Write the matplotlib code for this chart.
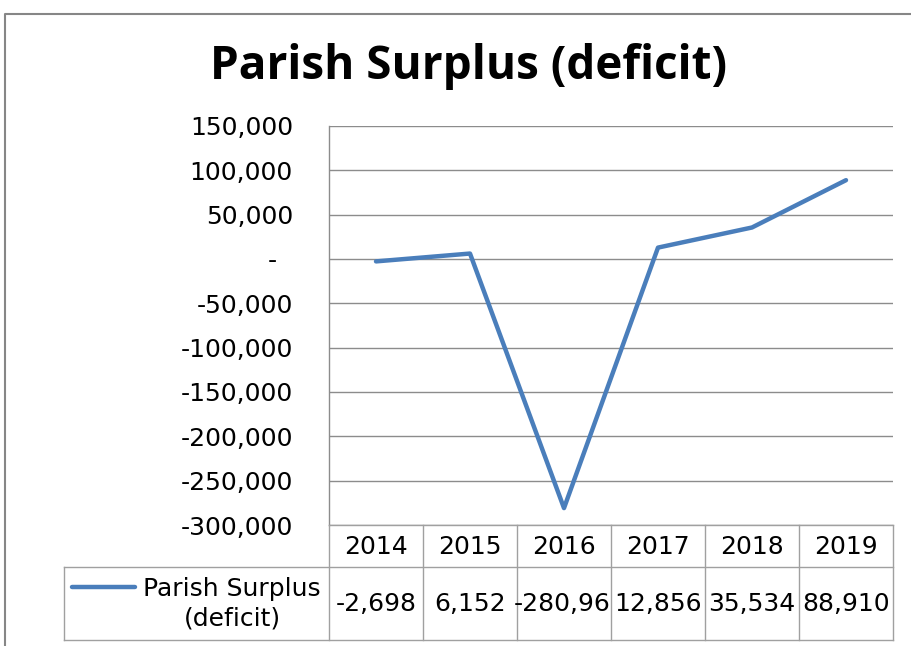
import numpy as np
import matplotlib
matplotlib.use("Agg")
import matplotlib.pyplot as plt
from matplotlib.lines import Line2D

# data
years = ["2014", "2015", "2016", "2017", "2018", "2019"]
surplus = [-2698, 6152, -280960, 12856, 35534, 88910]
series_name = "Parish Surplus\n(deficit)"
y_ticks = [150000, 100000, 50000, 0, -50000, -100000, -150000, -200000, -250000, -300000]

W, H = 912, 646
fig = plt.figure(figsize=(W / 100, H / 100), dpi=100)

def fx(px):
    return px / W

def fy(py):
    return 1 - py / H

# plot area in pixels
L, R, T, B = 329, 893, 126, 525
ax = fig.add_axes([fx(L), fy(B), fx(R - L), (B - T) / H])

line_color = "#4A7EBB"
grid_color = "#8C8C8C"
table_color = "#A0A0A0"
font = "DejaVu Sans"
fs = 18

x = np.arange(len(years))
ax.plot(x, surplus, color=line_color, lw=3.2, solid_capstyle="round", solid_joinstyle="round", zorder=3)
ax.set_xlim(-0.5, len(years) - 0.5)
ax.set_ylim(-300000, 150000)
ax.set_yticks(y_ticks)
ax.set_yticklabels([(" -  " if v == 0 else f"{v:,}") for v in y_ticks], fontsize=fs, family=font, color="#000000")
ax.tick_params(axis="y", length=0, pad=26)
ax.set_xticks([])
ax.grid(axis="y", color=grid_color, lw=1)
ax.set_axisbelow(True)
for s in ["top", "right", "bottom"]:
    ax.spines[s].set_visible(False)
ax.spines["left"].set_color(grid_color)
ax.spines["left"].set_linewidth(1)

# title
fig.text(fx(469), fy(67), "Parish Surplus (deficit)", ha="center", va="center",
         fontsize=33, fontweight="bold", family="Open Sans")

# data table below the plot
def hline(y, x0, x1, c=table_color):
    fig.add_artist(Line2D([fx(x0), fx(x1)], [fy(y), fy(y)], color=c, lw=1))

def vline(xp, y0, y1, c=table_color):
    fig.add_artist(Line2D([fx(xp), fx(xp)], [fy(y0), fy(y1)], color=c, lw=1))

hdr_top, hdr_bot, row_bot, leg_left = B, 567, 640, 64
col_w = (R - L) / len(years)
hline(hdr_top, L, R)
hline(hdr_bot, leg_left, R)
hline(row_bot, leg_left, R)
vline(leg_left, hdr_bot, row_bot)
for i in range(len(years) + 1):
    vline(L + i * col_w, hdr_top, row_bot)

for i, (yr, v) in enumerate(zip(years, surplus)):
    cx = L + (i + 0.5) * col_w
    fig.text(fx(cx), fy((hdr_top + hdr_bot) / 2 + 1), yr, ha="center", va="center",
             fontsize=fs, family=font)
    label = f"{v:,}"
    x0 = L + i * col_w
    if len(label) > 7:
        # too wide for the cell: cut off like the spreadsheet does
        fig.text(fx(x0 - 3), fy((hdr_bot + row_bot) / 2), label[:7], ha="left", va="center",
                 fontsize=fs, family=font)
    else:
        fig.text(fx(cx), fy((hdr_bot + row_bot) / 2), label, ha="center", va="center",
                 fontsize=fs, family=font)

# legend key in the table
fig.add_artist(Line2D([fx(72), fx(135)], [fy(587), fy(587)], color=line_color, lw=3.2,
                      solid_capstyle="round"))
fig.text(fx(232), fy(604), series_name, ha="center", va="center", fontsize=fs,
         family=font, linespacing=1.3)

# outer chart border
fig.add_artist(Line2D([fx(5), fx(5), fx(W + 5)], [fy(H + 5), fy(14), fy(14)],
                      color="#868686", lw=1.5))

fig.savefig("out.png", dpi=100)
